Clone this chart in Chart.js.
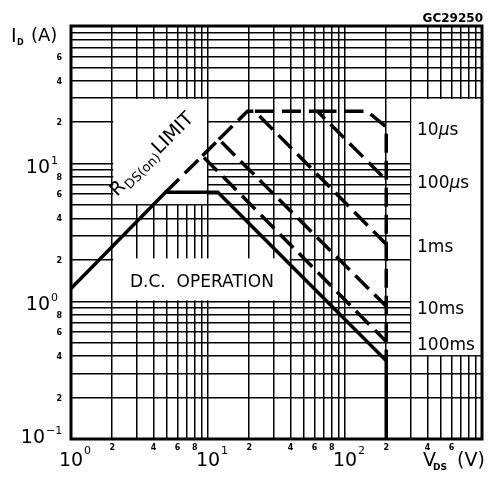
<!DOCTYPE html>
<html>
<head>
<meta charset="utf-8">
<script src="https://cdn.jsdelivr.net/npm/chart.js@4"></script>
<style>
  html, body { margin: 0; padding: 0; background: #fff; }
  canvas { display: block; }
</style>
</head>
<body>
<canvas id="soaChart" width="493" height="477"></canvas>
<script>
// curves: V_DS (V) against I_D (A)
const dcV = [1, 4.9, 11.8, 200, 200];
const dcI = [1.24, 6.2, 6.2, 0.37, 0.1];
const ms100V = [4.9, 9.1, 200];
const ms100I = [6.2, 11.4, 0.51];
const ms10V = [9.1, 12.0, 200];
const ms10I = [11.4, 15.0, 0.92];
const ms1V = [12.0, 19.4, 22, 200];
const ms1I = [15.0, 24, 24, 2.6];
const us100V = [22, 63, 200];
const us100I = [24, 24, 7.6];
const us10V = [63, 145, 200, 200];
const us10I = [24, 24, 18.5, 0.37];

// grid and tick labels
const xGrid = [1, 2, 3, 4, 5, 6, 7, 8, 9, 10, 20, 30, 40, 50, 60, 70, 80, 90,
               100, 200, 300, 400, 500, 600, 700, 800, 900, 1000];
const yGrid = [0.1, 0.2, 0.3, 0.4, 0.5, 0.6, 0.7, 0.8, 0.9, 1, 2, 3, 4, 5, 6, 7, 8, 9,
               10, 20, 30, 40, 50, 60, 70, 80, 90, 100];
const xMinorTicks = [2, 4, 6, 8, 20, 40, 60, 80, 200, 400, 600];
const xMinorText = ['2', '4', '6', '8', '2', '4', '6', '8', '2', '4', '6'];
const yMinorTicks = [0.2, 0.4, 0.6, 0.8, 2, 4, 6, 8, 20, 40, 60];
const yMinorText = ['2', '4', '6', '8', '2', '4', '6', '8', '2', '4', '6'];
const xMajorTicks = [1, 10, 100];
const xMajorExp = ['0', '1', '2'];
const yMajorTicks = [0.1, 1, 10];
const yMajorExp = ['\u22121', '0', '1'];

// each name sits beside the point where its curve reaches 200 V
const curveLabels = [
    { name: '10', unit: 'µ', tail: 's', V: us10V, I: us10I },
    { name: '100', unit: 'µ', tail: 's', V: us100V, I: us100I },
    { name: '1ms', V: ms1V, I: ms1I },
    { name: '10ms', V: ms10V, I: ms10I },
    { name: '100ms', V: ms100V, I: ms100I }
];

const FONT = '"DejaVu Sans", sans-serif';

function points(xs, ys) {
    return xs.map((v, i) => ({ x: v, y: ys[i] }));
}

function curve(xs, ys, dashed) {
    return {
        data: points(xs, ys),
        showLine: true,
        borderColor: '#000',
        borderWidth: 3.5,
        borderDash: dashed ? [19, 8] : [],
        pointRadius: 0,
        fill: false,
        tension: 0
    };
}

// white patches where the grid is left out for the labels
const blankBoxes = [
    { x0: 2, x1: 10, y0: 5, y1: 30, top: 1 },
    { x0: 2, x1: 40, y0: 1, y1: 2, top: -1.5 },
    { x0: 300, x1: 1000, y0: 0.4, y1: 30, top: 1 }
];

const soaPlugin = {
    id: 'soaPlugin',
    beforeDatasetsDraw(chart) {
        const { ctx, scales: { x, y } } = chart;
        ctx.save();
        ctx.fillStyle = '#fff';
        blankBoxes.forEach(b => {
            const l = x.getPixelForValue(b.x0) + 1;
            const r = x.getPixelForValue(b.x1) - 1;
            const t = y.getPixelForValue(b.y1) + b.top;
            const bt = y.getPixelForValue(b.y0) - 1;
            ctx.fillRect(l, t, r - l, bt - t);
        });
        ctx.restore();
    },
    afterDraw(chart) {
        const { ctx, chartArea: a, scales: { x, y } } = chart;
        ctx.save();
        ctx.strokeStyle = '#000';
        ctx.lineWidth = 3;
        ctx.strokeRect(a.left, a.top, a.right - a.left, a.bottom - a.top);

        ctx.fillStyle = '#000';

        // small tick numbers
        ctx.font = 'bold 8px ' + FONT;
        ctx.textAlign = 'center';
        ctx.textBaseline = 'alphabetic';
        xMinorTicks.forEach((v, i) => {
            ctx.fillText(xMinorText[i], x.getPixelForValue(v), a.bottom + 11);
        });
        ctx.textAlign = 'right';
        yMinorTicks.forEach((v, i) => {
            ctx.fillText(yMinorText[i], a.left - 9, y.getPixelForValue(v) + 3);
        });

        // decades
        ctx.textAlign = 'left';
        xMajorTicks.forEach((v, i) => {
            const px = x.getPixelForValue(v);
            ctx.font = '19px ' + FONT;
            const w = ctx.measureText('10').width;
            ctx.fillText('10', px - w / 2, a.bottom + 27);
            ctx.font = '11px ' + FONT;
            ctx.fillText(xMajorExp[i], px + w / 2 + 1, a.bottom + 15);
        });
        yMajorTicks.forEach((v, i) => {
            const py = y.getPixelForValue(v);
            const right = yMajorExp[i].length > 1 ? 45 : 50;
            const base = v === yMajorTicks[0] ? py + 4 : py + 9;
            ctx.font = '19px ' + FONT;
            const w = ctx.measureText('10').width;
            ctx.fillText('10', right - w, base);
            ctx.font = '11px ' + FONT;
            ctx.fillText(yMajorExp[i], right + 1, base - 9);
        });

        // axis titles
        ctx.font = '19px ' + FONT;
        ctx.fillText('I', 11, 42);
        ctx.font = 'bold 8px ' + FONT;
        ctx.fillText('D', 17, 45);
        ctx.font = '18px ' + FONT;
        ctx.fillText('(A)', 31, 41);

        ctx.font = '19px ' + FONT;
        ctx.fillText('V', 423, 466);
        ctx.font = 'bold 9px ' + FONT;
        ctx.fillText('DS', 433, 470);
        ctx.font = '19px ' + FONT;
        ctx.fillText('(V)', 457, 466);

        ctx.font = 'bold 12px ' + FONT;
        ctx.textAlign = 'right';
        ctx.fillText('GC29250', a.right + 1, 22);

        // curve names on the right
        ctx.textAlign = 'left';
        curveLabels.forEach(c => {
            const end = c.V.indexOf(200);
            const py = y.getPixelForValue(c.I[end]) + 8;
            let px = 417;
            ctx.font = '17px ' + FONT;
            ctx.fillText(c.name, px, py);
            if (c.unit) {
                px += ctx.measureText(c.name).width;
                ctx.font = 'italic 17px ' + FONT;
                ctx.fillText(c.unit, px, py);
                px += ctx.measureText(c.unit).width;
                ctx.font = '17px ' + FONT;
                ctx.fillText(c.tail, px, py);
            }
        });

        ctx.font = '17px ' + FONT;
        ctx.fillText('D.C.  OPERATION', 130, 287);

        // R_DS(on) LIMIT, slanted
        ctx.translate(117, 197);
        ctx.rotate(-Math.PI / 4);
        let tx = 0;
        ctx.font = '19px ' + FONT;
        ctx.fillText('R', tx, 0);
        tx += ctx.measureText('R').width + 1;
        ctx.font = '13px ' + FONT;
        ctx.fillText('DS(on)', tx, 4);
        tx += ctx.measureText('DS(on)').width + 1;
        ctx.font = '19px ' + FONT;
        ctx.fillText('LIMIT', tx, 0);

        ctx.restore();
    }
};

function logAxis(min, max, grid) {
    return {
        type: 'logarithmic',
        min: min,
        max: max,
        afterBuildTicks: scale => {
            scale.ticks = grid.map(v => ({ value: v }));
        },
        ticks: { display: false },
        grid: { color: '#000', lineWidth: 1.5, drawTicks: false },
        border: { display: false }
    };
}

const ctx = document.getElementById('soaChart').getContext('2d');
new Chart(ctx, {
    type: 'scatter',
    data: {
        datasets: [
            curve(dcV, dcI, false),
            curve(ms100V, ms100I, true),
            curve(ms10V, ms10I, true),
            curve(ms1V, ms1I, true),
            curve(us100V, us100I, true),
            curve(us10V, us10I, true)
        ]
    },
    options: {
        responsive: false,
        animation: false,
        layout: { padding: { left: 71, top: 26, right: 11, bottom: 38 } },
        plugins: {
            legend: { display: false },
            tooltip: { enabled: false }
        },
        scales: {
            x: logAxis(1, 1000, xGrid),
            y: logAxis(0.1, 100, yGrid)
        }
    },
    plugins: [soaPlugin]
});
</script>
</body>
</html>
